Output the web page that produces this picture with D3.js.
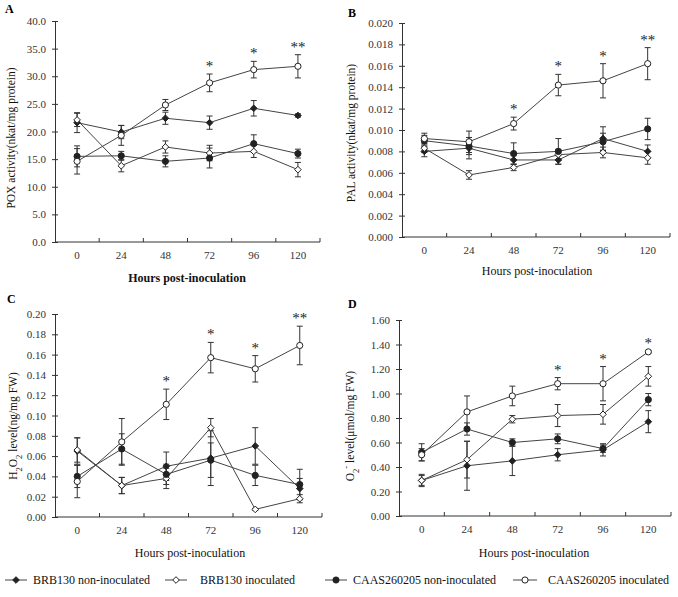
<!DOCTYPE html>
<html><head><meta charset="utf-8">
<script src="https://cdn.jsdelivr.net/npm/d3@7"></script>
<style>
body{margin:0;background:#fff;}
svg{display:block;font-family:"Liberation Serif","Times New Roman",serif;}
</style></head><body>
<svg id="chart" width="678" height="597"></svg>
<script>
const hours = ["0","24","48","72","96","120"];
const seriesNames = ["BRB130 non-inoculated","BRB130 inoculated","CAAS260205 non-inoculated","CAAS260205 inoculated"];

// Panel A: POX
const poxBRBnon = [21.6, 19.9, 22.4, 21.6, 24.2, 22.9];
const poxBRBnonErr = [1.8, 1.2, 1.1, 1.2, 1.4, 0.3];
const poxBRBinoc = [22.1, 13.8, 17.2, 16.1, 16.4, 13.1];
const poxBRBinocErr = [1.2, 1.1, 1.1, 1.4, 1.1, 1.3];
const poxCAASnon = [15.5, 15.6, 14.6, 15.2, 17.8, 16.0];
const poxCAASnonErr = [1.9, 0.8, 1.0, 1.8, 1.6, 0.8];
const poxCAASinoc = [14.6, 19.3, 24.8, 28.8, 31.2, 31.8];
const poxCAASinocErr = [2.3, 1.8, 1.0, 1.6, 1.5, 2.1];
const poxSig = ["", "", "", "*", "*", "**"];
const poxTicks = [0,5,10,15,20,25,30,35,40];

// Panel B: PAL
const palBRBnon = [0.0080, 0.0083, 0.0072, 0.0072, 0.0092, 0.0080];
const palBRBnonErr = [0.0005, 0.0010, 0.0004, 0.0004, 0.0011, 0.0006];
const palBRBinoc = [0.0083, 0.0058, 0.0065, 0.0077, 0.0079, 0.0074];
const palBRBinocErr = [0.0004, 0.0004, 0.0003, 0.0005, 0.0005, 0.0006];
const palCAASnon = [0.0090, 0.0085, 0.0078, 0.0080, 0.0089, 0.0101];
const palCAASnonErr = [0.0005, 0.0008, 0.0010, 0.0012, 0.0008, 0.0010];
const palCAASinoc = [0.0092, 0.0089, 0.0106, 0.0142, 0.0146, 0.0162];
const palCAASinocErr = [0.0005, 0.0010, 0.0006, 0.0010, 0.0016, 0.0015];
const palSig = ["", "", "*", "*", "*", "**"];
const palTicks = [0,0.002,0.004,0.006,0.008,0.010,0.012,0.014,0.016,0.018,0.020];

// Panel C: H2O2
const h2o2BRBnon = [0.065, 0.031, 0.050, 0.058, 0.070, 0.028];
const h2o2BRBnonErr = [0.013, 0.008, 0.014, 0.027, 0.018, 0.010];
const h2o2BRBinoc = [0.066, 0.031, 0.038, 0.088, 0.0075, 0.018];
const h2o2BRBinocErr = [0.012, 0.008, 0.010, 0.009, 0.001, 0.004];
const h2o2CAASnon = [0.040, 0.067, 0.042, 0.056, 0.041, 0.032];
const h2o2CAASnonErr = [0.011, 0.015, 0.010, 0.017, 0.010, 0.015];
const h2o2CAASinoc = [0.035, 0.074, 0.111, 0.157, 0.146, 0.169];
const h2o2CAASinocErr = [0.016, 0.023, 0.015, 0.015, 0.013, 0.019];
const h2o2Sig = ["", "", "*", "*", "*", "**"];
const h2o2Ticks = [0,0.02,0.04,0.06,0.08,0.10,0.12,0.14,0.16,0.18,0.20];

// Panel D: O2-
const o2BRBnon = [0.29, 0.41, 0.45, 0.50, 0.54, 0.77];
const o2BRBnonErr = [0.04, 0.20, 0.12, 0.05, 0.05, 0.09];
const o2BRBinoc = [0.29, 0.46, 0.79, 0.82, 0.83, 1.14];
const o2BRBinocErr = [0.05, 0.15, 0.03, 0.09, 0.08, 0.08];
const o2CAASnon = [0.52, 0.71, 0.60, 0.63, 0.55, 0.95];
const o2CAASnonErr = [0.07, 0.05, 0.03, 0.04, 0.03, 0.05];
const o2CAASinoc = [0.50, 0.85, 0.98, 1.08, 1.08, 1.34];
const o2CAASinocErr = [0.05, 0.13, 0.08, 0.05, 0.14, 0.01];
const o2Sig = ["", "", "", "*", "*", "*"];
const o2Ticks = [0,0.2,0.4,0.6,0.8,1.0,1.2,1.4,1.6];

const svg = d3.select("#chart");
const ink = "#222";
// square diamond symbol
const squareDiamond = {
  draw(ctx, size) {
    const r = Math.sqrt(size / 2);
    ctx.moveTo(0, -r); ctx.lineTo(r, 0); ctx.lineTo(0, r); ctx.lineTo(-r, 0); ctx.closePath();
  }
};
const markerTypes = [
  {shape: squareDiamond, fill: ink},
  {shape: squareDiamond, fill: "#fff"},
  {shape: d3.symbolCircle, fill: ink},
  {shape: d3.symbolCircle, fill: "#fff"}
];
const markerSizes = [22, 22, 30, 30];

const panels = [
  {letter:"A", lx:5, ly:13, x0:55, x1:320, yTop:21, yBot:242, max:40, ticks:poxTicks, fmt:d3.format(".1f"),
   series:[[poxBRBnon,poxBRBnonErr],[poxBRBinoc,poxBRBinocErr],[poxCAASnon,poxCAASnonErr],[poxCAASinoc,poxCAASinocErr]],
   sig:poxSig, ylab:[{t:"POX activity(nkat/mg protein)"}], ylx:15, yly:138, xlab:{x:187,y:282,bold:true}},
  {letter:"B", lx:348, ly:17, x0:402, x1:670, yTop:23, yBot:237, max:0.020, ticks:palTicks, fmt:d3.format(".3f"),
   series:[[palBRBnon,palBRBnonErr],[palBRBinoc,palBRBinocErr],[palCAASnon,palCAASnonErr],[palCAASinoc,palCAASinocErr]],
   sig:palSig, ylab:[{t:"PAL activity(nkat/mg protein)"}], ylx:355, yly:133, xlab:{x:537,y:275,bold:false}},
  {letter:"C", lx:7, ly:303, x0:55, x1:322, yTop:314, yBot:517, max:0.20, ticks:h2o2Ticks, fmt:d3.format(".2f"),
   series:[[h2o2BRBnon,h2o2BRBnonErr],[h2o2BRBinoc,h2o2BRBinocErr],[h2o2CAASnon,h2o2CAASnonErr],[h2o2CAASinoc,h2o2CAASinocErr]],
   sig:h2o2Sig, ylab:[{t:"H"},{t:"2",sub:true},{t:"O"},{t:"2",sub:true},{t:" level(ng/mg FW)"}], ylx:17, yly:426, xlab:{x:190,y:557,bold:false}},
  {letter:"D", lx:348, ly:308, x0:399, x1:671, yTop:320, yBot:516, max:1.6, ticks:o2Ticks, fmt:d3.format(".2f"),
   series:[[o2BRBnon,o2BRBnonErr],[o2BRBinoc,o2BRBinocErr],[o2CAASnon,o2CAASnonErr],[o2CAASinoc,o2CAASinocErr]],
   sig:o2Sig, ylab:[{t:"O"},{t:"2",sub:true},{t:"-",sup:true},{t:" level(μmol/mg FW)"}], ylx:354, yly:426, xlab:{x:534,y:557,bold:false}}
];

panels.forEach(p => {
  const g = svg.append("g");
  const x = d3.scaleBand().domain(hours).range([p.x0, p.x1]);
  const y = d3.scaleLinear().domain([0, p.max]).range([p.yBot, p.yTop]);

  // axes
  const yAxis = d3.axisLeft(y).tickValues(p.ticks).tickFormat(p.fmt).tickSizeInner(3).tickSizeOuter(0).tickPadding(6);
  const ya = g.append("g").attr("transform", `translate(${p.x0},0)`).call(yAxis);
  ya.attr("font-family", null);
  ya.select(".domain").attr("stroke", "#333");
  ya.selectAll(".tick line").attr("stroke", "#333").attr("x1", -3).attr("x2", 3);
  ya.selectAll(".tick text").attr("font-family", "Liberation Serif").attr("font-size", 11).attr("fill", "#333");

  const xa = g.append("g").attr("transform", `translate(0,${p.yBot})`);
  xa.append("line").attr("x1", p.x0).attr("x2", p.x1).attr("stroke", "#333");
  const bounds = hours.map((h) => x(h) + x.bandwidth());
  xa.selectAll(".xt").data(bounds).join("line")
    .attr("x1", d => d).attr("x2", d => d).attr("y1", 0).attr("y2", -4).attr("stroke", "#333");
  const xAxis = d3.axisBottom(x).tickSize(0).tickPadding(9);
  const xb = g.append("g").attr("transform", `translate(0,${p.yBot})`).call(xAxis);
  xb.attr("font-family", null);
  xb.select(".domain").remove();
  xb.selectAll(".tick text").attr("font-family", "Liberation Serif").attr("font-size", 11).attr("fill", "#333");

  // panel letter
  g.append("text").attr("x", p.lx).attr("y", p.ly).attr("font-weight", "bold").attr("font-size", 12).text(p.letter);

  // y label
  const yl = g.append("text").attr("transform", `translate(${p.ylx},${p.yly}) rotate(-90)`)
    .attr("text-anchor", "middle").attr("font-size", 11.5).attr("fill", "#111");
  p.ylab.forEach(s => {
    const ts = yl.append("tspan").text(s.t);
    if (s.sub) ts.attr("baseline-shift", "sub").attr("font-size", 8.5);
    if (s.sup) ts.attr("baseline-shift", "super").attr("font-size", 8.5);
  });

  // x label
  g.append("text").attr("x", p.xlab.x).attr("y", p.xlab.y).attr("text-anchor", "middle")
    .attr("font-size", 12).attr("font-weight", p.xlab.bold ? "bold" : "normal").attr("fill", "#111")
    .text("Hours post-inoculation");

  const cx = h => x(h) + x.bandwidth() / 2;

  // error bars
  p.series.forEach(([vals, errs]) => {
    const eb = g.append("g").attr("stroke", "#333").attr("stroke-width", 1);
    hours.forEach((h, i) => {
      const top = y(vals[i] + errs[i]), bot = y(Math.max(0, vals[i] - errs[i]));
      eb.append("line").attr("x1", cx(h)).attr("x2", cx(h)).attr("y1", top).attr("y2", bot);
      eb.append("line").attr("x1", cx(h) - 3).attr("x2", cx(h) + 3).attr("y1", top).attr("y2", top);
      eb.append("line").attr("x1", cx(h) - 3).attr("x2", cx(h) + 3).attr("y1", bot).attr("y2", bot);
    });
  });

  // lines
  const line = d3.line().x((d, i) => cx(hours[i])).y(d => y(d));
  p.series.forEach(([vals]) => {
    g.append("path").datum(vals).attr("d", line).attr("fill", "none").attr("stroke", "#444").attr("stroke-width", 1);
  });

  // markers
  p.series.forEach(([vals], si) => {
    const mt = markerTypes[si];
    g.selectAll(null).data(vals).join("path")
      .attr("d", d3.symbol().type(mt.shape).size(markerSizes[si]))
      .attr("transform", (d, i) => `translate(${cx(hours[i])},${y(d)})`)
      .attr("fill", mt.fill).attr("stroke", ink).attr("stroke-width", 1);
  });

  // significance marks
  const inoc = p.series[3];
  g.selectAll(null).data(p.sig).join("text")
    .attr("x", (d, i) => cx(hours[i]))
    .attr("y", (d, i) => y(inoc[0][i] + inoc[1][i]) - 3)
    .attr("text-anchor", "middle").attr("font-size", 15).attr("fill", "#222")
    .text(d => d);
});

// legend
const legendX = [[5, 27, 33], [165, 187, 200], [325, 347, 353], [513, 537, 548]];
const lg = svg.append("g");
seriesNames.forEach((name, i) => {
  const [a, b, t] = legendX[i];
  const yy = 580;
  lg.append("line").attr("x1", a).attr("x2", b).attr("y1", yy).attr("y2", yy).attr("stroke", "#444");
  lg.append("path").attr("d", d3.symbol().type(markerTypes[i].shape).size(markerSizes[i])())
    .attr("transform", `translate(${(a + b) / 2},${yy})`).attr("fill", markerTypes[i].fill).attr("stroke", ink);
  lg.append("text").attr("x", t).attr("y", yy + 4).attr("font-size", 12).attr("fill", "#111").text(name);
});
</script>
</body></html>
